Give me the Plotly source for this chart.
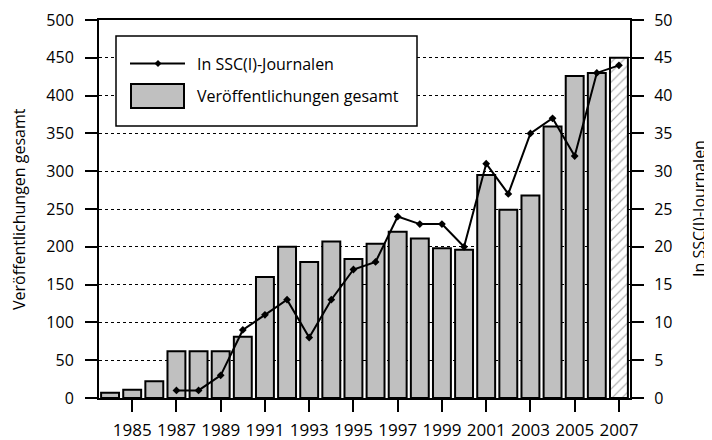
import plotly.graph_objects as go

years = list(range(1984, 2008))
total_pubs = [7, 11, 22, 62, 62, 62, 81, 160, 200, 180, 207, 184,
              204, 220, 211, 198, 196, 295, 249, 268, 359, 426, 430, 450]
ssci_years = list(range(1987, 2008))
ssci_pubs = [1, 1, 3, 9, 11, 13, 8, 13, 17, 18, 24, 23, 23, 20, 31, 27, 35, 37, 32, 43, 44]
tick_years = list(range(1985, 2008, 2))

FONT = "Open Sans"
OFF = 8  # page body margin
W, H = 712 - OFF, 440 - OFF
L, R, T, B = 99 - OFF, 82, 20 - OFF, 42
PW, PH = W - L - R, H - T - B

def px(x):
    # window pixel -> paper x
    return (x - OFF - L) / PW

def py(y):
    # window pixel -> paper y
    return (H - B - (y - OFF)) / PH

bar_colors = ["#c0c0c0"] * (len(years) - 1) + ["white"]
pattern_shapes = [""] * (len(years) - 1) + ["/"]

fig = go.Figure()
fig.add_trace(go.Bar(
    x=years, y=total_pubs, name="Veröffentlichungen gesamt",
    marker=dict(color=bar_colors, line=dict(color="black", width=2),
                pattern=dict(shape=pattern_shapes, fgcolor="#555555", bgcolor="white",
                             size=7, solidity=0.15)),
    showlegend=False, yaxis="y",
))
fig.add_trace(go.Scatter(
    x=ssci_years, y=ssci_pubs, name="In SSC(I)-Journalen", yaxis="y2",
    mode="lines+markers",
    line=dict(color="black", width=2),
    marker=dict(symbol="diamond", size=6, color="black"),
    showlegend=False,
))

axis_font = dict(family=FONT, size=16, color="black")
xtick_font = dict(family=FONT, size=17, color="black")

fig.update_layout(
    width=W, height=H,
    margin=dict(l=L, r=R, t=T, b=B, pad=0, autoexpand=False),
    paper_bgcolor="white", plot_bgcolor="white",
    font=axis_font,
    bargap=0.19,
    xaxis=dict(range=[1983.5, 2007.5], tickvals=tick_years, ticktext=[str(y) for y in tick_years],
               showline=True, linecolor="black", linewidth=2, mirror=True, automargin=False,
               ticks="outside", ticklen=12, tickwidth=1.5, tickcolor="black",
               showgrid=False, zeroline=False, tickfont=xtick_font, ticklabelstandoff=4),
    yaxis=dict(range=[0, 500], tickvals=list(range(0, 501, 50)), automargin=False,
               showline=True, linecolor="black", linewidth=2,
               ticks="outside", ticklen=12, tickwidth=1.5, tickcolor="black",
               showgrid=True, gridcolor="black", gridwidth=1, griddash="dot",
               zeroline=False, tickfont=axis_font, ticklabelstandoff=8),
    yaxis2=dict(range=[0, 50], tickvals=list(range(0, 51, 5)), overlaying="y", side="right",
                showline=True, linecolor="black", linewidth=2, automargin=False,
                ticks="outside", ticklen=12, tickwidth=1.5, tickcolor="black",
                showgrid=False, zeroline=False, tickfont=axis_font, ticklabelstandoff=7),
)

# Legend box drawn manually
shapes = [
    dict(type="rect", xref="paper", yref="paper", x0=px(116), x1=px(417), y0=py(126), y1=py(36),
         fillcolor="white", line=dict(color="black", width=1.5), layer="above"),
    dict(type="line", xref="paper", yref="paper", x0=px(130), x1=px(185), y0=py(63.5), y1=py(63.5),
         line=dict(color="black", width=2), layer="above"),
    dict(type="path", xref="paper", yref="paper",
         path=f"M {px(154.5)} {py(63.5)} L {px(158)} {py(60)} L {px(161.5)} {py(63.5)} L {px(158)} {py(67)} Z",
         fillcolor="black", line=dict(color="black", width=0), layer="above"),
    dict(type="rect", xref="paper", yref="paper", x0=px(131), x1=px(184), y0=py(108), y1=py(84),
         fillcolor="#c0c0c0", line=dict(color="black", width=2), layer="above"),
]
fig.update_layout(shapes=shapes)
fig.add_annotation(xref="paper", yref="paper", x=px(195), y=py(63.5), xanchor="left", yanchor="middle",
                   text="In SSC(I)-Journalen", showarrow=False, font=axis_font)
fig.add_annotation(xref="paper", yref="paper", x=px(195), y=py(96), xanchor="left", yanchor="middle",
                   text="Veröffentlichungen gesamt", showarrow=False, font=axis_font)
# Axis titles
fig.add_annotation(xref="paper", yref="paper", x=px(19), y=py(209), xanchor="center", yanchor="middle",
                   text="Veröffentlichungen gesamt", textangle=-90, showarrow=False, font=axis_font)
fig.add_annotation(xref="paper", yref="paper", x=px(699), y=py(209), xanchor="center", yanchor="middle",
                   text="In SSC(I)-Journalen", textangle=-90, showarrow=False, font=axis_font)

fig.write_html("out.html")
